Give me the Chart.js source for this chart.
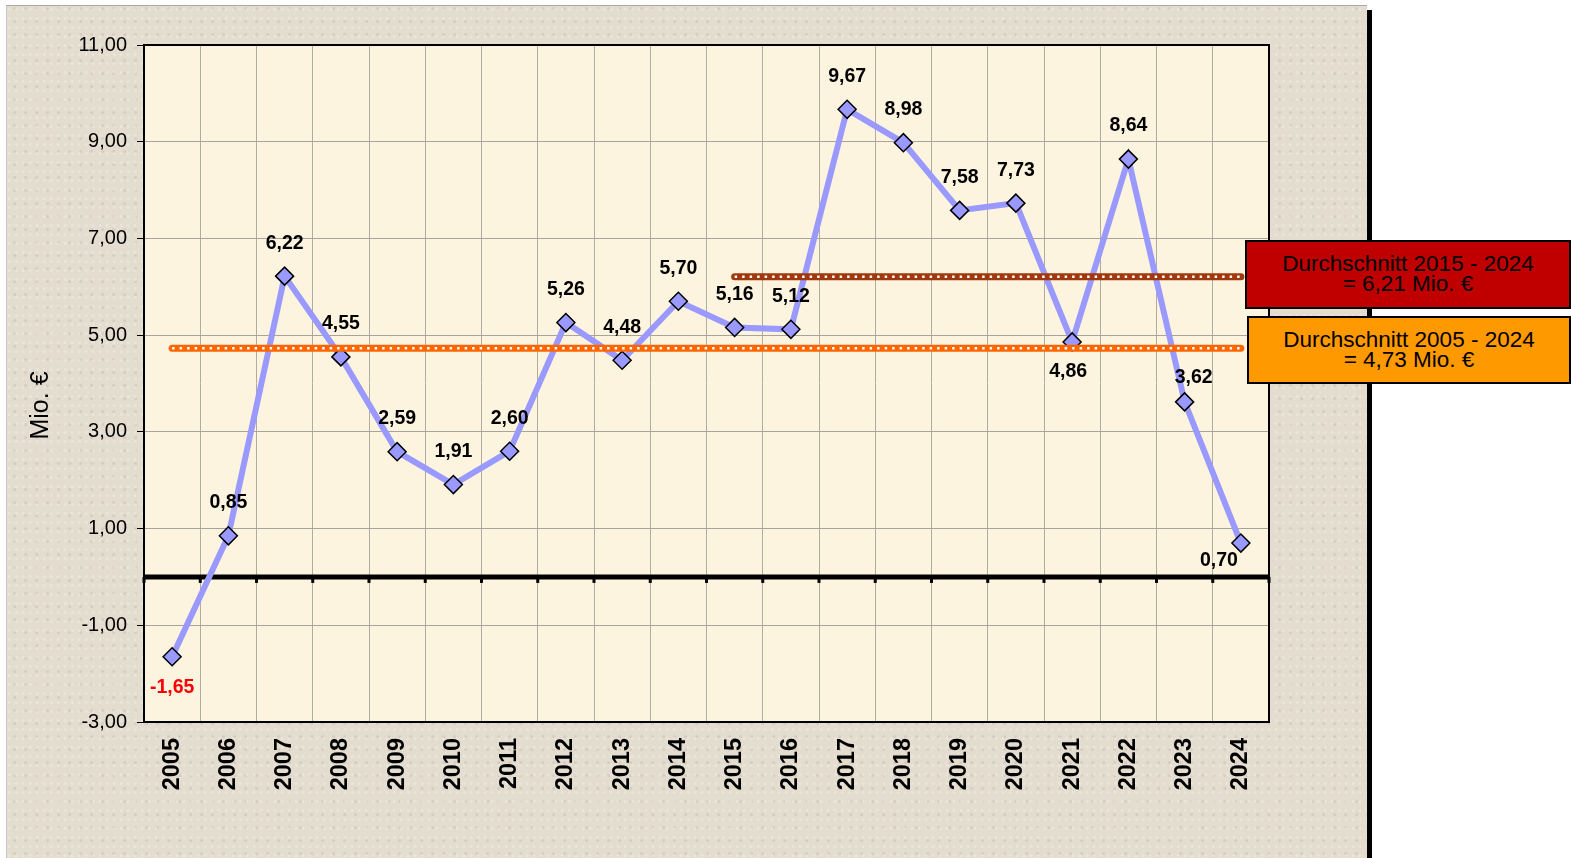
<!DOCTYPE html>
<html>
<head>
<meta charset="utf-8">
<script src="https://cdn.jsdelivr.net/npm/chart.js@4"></script>
<style>
  html, body { margin: 0; padding: 0; background: #fff; overflow: hidden; }
  #panel {
    position: absolute; left: 6px; top: 5px; width: 1360px; height: 900px;
    background-color: #e3dccf;
    background-image:
      radial-gradient(circle at 30% 40%, rgba(255,255,255,0.25) 0 1px, transparent 2px),
      radial-gradient(circle at 70% 20%, rgba(150,140,120,0.18) 0 1px, transparent 2px);
    background-size: 7px 9px, 11px 13px;
    border-top: 1px solid #a8a8a8; border-left: 1px solid #c8c8c8;
    box-shadow: 5px 5px 0 #000;
  }
  #wrap { position: absolute; left: 0; top: 0; width: 1571px; height: 858px; }
  .avgbox {
    position: absolute; box-sizing: border-box; border: 2px solid #000;
    font: 22.5px "Liberation Sans", Arial, sans-serif; color: #000;
    text-align: center; line-height: 20px; padding-top: 12px;
  }
  #box1 { left: 1245px; top: 240px; width: 326px; height: 69px; background: #c00000; }
  #box2 { left: 1247px; top: 316px; width: 324px; height: 68px; background: #ff9900; }
</style>
</head>
<body>
<div id="panel"></div>
<div id="wrap"><canvas id="myChart" width="1571" height="858"></canvas></div>
<div id="box1" class="avgbox">Durchschnitt 2015 - 2024<br>= 6,21 Mio. €</div>
<div id="box2" class="avgbox">Durchschnitt 2005 - 2024<br>= 4,73 Mio. €</div>
<script>
// Werte in Mio. €
const years = ['2005', '2006', '2007', '2008', '2009', '2010', '2011', '2012', '2013', '2014',
               '2015', '2016', '2017', '2018', '2019', '2020', '2021', '2022', '2023', '2024'];
const values = [-1.65, 0.85, 6.22, 4.55, 2.59, 1.91, 2.60, 5.26, 4.48, 5.70,
                5.16, 5.12, 9.67, 8.98, 7.58, 7.73, 4.86, 8.64, 3.62, 0.70];
const avgAll = 4.73;     // 2005 - 2024
const avgRecent = 6.21;  // 2015 - 2024
const yTicks = [-3, -1, 1, 3, 5, 7, 9, 11];
const yTitle = 'Mio. €';

const FONT = '"Liberation Sans", Arial, sans-serif';

function fmt(v) {
    return v.toFixed(2).replace('.', ',');
}

// label offsets (dx, dy) for points whose label is not just above
const labelShift = {0: [0, 31], 16: [-4, 30], 18: [9, -24], 19: [-22, 18]};

const plotDeco = {
    id: 'plotDeco',
    beforeDraw(chart) {
        const a = chart.chartArea, c = chart.ctx;
        c.save();
        c.fillStyle = '#fdf4df';
        c.fillRect(a.left, a.top, a.right - a.left, a.bottom - a.top);
        // axis title, sits a bit below the middle like the original
        c.translate(41, (a.top + a.bottom) / 2 + 22);
        c.rotate(-Math.PI / 2);
        c.font = '25px ' + FONT;
        c.fillStyle = '#000';
        c.textAlign = 'center';
        c.textBaseline = 'middle';
        c.fillText(yTitle, 0, 0);
        c.restore();
    },
    beforeDatasetsDraw(chart) {
        const a = chart.chartArea, c = chart.ctx;
        const y0 = chart.scales.y.getPixelForValue(0);
        const w = (a.right - a.left) / years.length;
        c.save();
        c.strokeStyle = '#000';
        c.lineWidth = 5;
        c.beginPath();
        c.moveTo(a.left, y0);
        c.lineTo(a.right, y0);
        c.stroke();
        c.lineWidth = 3;
        for (let i = 0; i <= years.length; i++) {
            c.beginPath();
            c.moveTo(a.left + i * w, y0);
            c.lineTo(a.left + i * w, y0 + 6);
            c.stroke();
        }
        c.lineWidth = 2;
        c.strokeRect(a.left, a.top, a.right - a.left, a.bottom - a.top);
        c.restore();
    },
    afterDatasetsDraw(chart) {
        const c = chart.ctx;
        const meta = chart.getDatasetMeta(chart.data.datasets.findIndex(d => d.id === 'main'));
        c.save();
        c.font = 'bold 19.5px ' + FONT;
        c.textAlign = 'center';
        c.textBaseline = 'middle';
        meta.data.forEach((pt, i) => {
            const s = labelShift[i] || [0, -33];
            c.fillStyle = values[i] < 0 ? '#ff0000' : '#000';
            c.fillText(fmt(values[i]), pt.x + s[0], pt.y + s[1]);
        });
        c.restore();
    }
};

const ctx = document.getElementById('myChart').getContext('2d');
const myChart = new Chart(ctx, {
    type: 'line',
    data: {
        labels: years,
        datasets: [{
            id: 'main',
            data: values,
            borderColor: '#9999ff',
            borderWidth: 6,
            pointStyle: 'rectRot',
            pointRadius: 9,
            pointBackgroundColor: '#9999ff',
            pointBorderColor: '#000',
            pointBorderWidth: 1.5,
            tension: 0,
            order: 5
        }, {
            data: [{x: '2005', y: avgAll}, {x: '2024', y: avgAll}],
            borderColor: '#ff6600',
            borderWidth: 7,
            borderCapStyle: 'round',
            pointRadius: 0,
            order: 3
        }, {
            data: [{x: '2005', y: avgAll}, {x: '2024', y: avgAll}],
            borderColor: '#ffffff',
            borderWidth: 2.5,
            borderDash: [2.5, 5],
            pointRadius: 0,
            order: 2
        }, {
            data: [{x: '2015', y: avgRecent}, {x: '2024', y: avgRecent}],
            borderColor: '#a0380c',
            borderWidth: 7,
            borderCapStyle: 'round',
            pointRadius: 0,
            order: 1
        }, {
            data: [{x: '2015', y: avgRecent}, {x: '2024', y: avgRecent}],
            borderColor: '#ffffff',
            borderWidth: 2.5,
            borderDash: [2.5, 5],
            pointRadius: 0,
            order: 0
        }]
    },
    options: {
        responsive: false,
        animation: false,
        layout: {
            padding: {left: 0, top: 45, right: 302, bottom: 0}
        },
        plugins: {
            legend: {display: false},
            tooltip: {enabled: false}
        },
        scales: {
            x: {
                offset: true,
                grid: {
                    offset: true,
                    color: '#b0aca0',
                    lineWidth: 1,
                    drawTicks: false
                },
                border: {display: false},
                ticks: {
                    autoSkip: false,
                    minRotation: 90,
                    maxRotation: 90,
                    padding: 16,
                    color: '#000',
                    font: {family: FONT, size: 23.5, weight: 'bold'}
                },
                afterFit: (scale) => { scale.height = 136; }
            },
            y: {
                min: -3,
                max: 11,
                afterBuildTicks: (scale) => { scale.ticks = yTicks.map(v => ({value: v})); },
                grid: {
                    color: '#a8a49a',
                    lineWidth: 1,
                    tickColor: '#000',
                    tickLength: 7
                },
                border: {display: false},
                ticks: {
                    padding: 10,
                    color: '#000',
                    font: {family: FONT, size: 20},
                    callback: (v) => fmt(v)
                },
                afterFit: (scale) => { scale.width = 144; }
            }
        }
    },
    plugins: [plotDeco]
});
</script>
</body>
</html>
